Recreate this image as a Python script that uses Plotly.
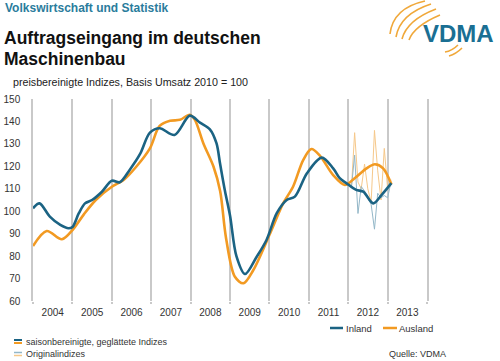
import plotly.graph_objects as go

# ---- data ----
inland_dates = ["2004-01-01", "2004-03-01", "2004-06-05", "2004-09-10", "2004-11-25", "2005-01-01",
                "2005-03-01", "2005-04-27", "2005-07-01", "2005-10-01", "2006-01-01", "2006-03-15",
                "2006-06-15", "2006-09-20", "2006-12-20", "2007-03-20", "2007-08-05", "2007-12-25",
                "2008-03-28", "2008-06-28", "2008-08-28", "2008-10-01", "2008-11-15", "2009-01-01",
                "2009-03-01", "2009-05-20", "2009-09-05", "2009-12-05", "2010-03-10", "2010-06-10",
                "2010-08-25", "2010-12-15", "2011-05-01", "2011-08-15", "2011-10-15", "2011-12-15",
                "2012-03-15", "2012-05-20", "2012-08-20", "2012-11-05", "2013-02-05"]
inland_values = [101.3, 103.5, 97.6, 93.9, 92.4, 93.0,
                 99.1, 103.5, 105.0, 108.7, 113.6, 112.9,
                 118.4, 125.5, 135.0, 137.0, 134.0, 142.6,
                 139.5, 136.5, 130.3, 121.0, 109.0, 98.0,
                 80.0, 72.0, 79.7, 87.2, 99.1, 105.0,
                 106.5, 116.9, 123.9, 119.1, 114.7, 112.5,
                 109.5, 108.7, 103.5, 107.2, 112.5]

ausland_dates = ["2004-01-01", "2004-05-07", "2004-09-25", "2005-01-01", "2005-04-15", "2005-08-05",
                 "2006-01-01", "2006-04-20", "2006-08-15", "2006-12-20", "2007-03-20", "2007-06-25",
                 "2007-09-25", "2007-12-25", "2008-02-10", "2008-04-28", "2008-08-01", "2008-10-01",
                 "2008-11-25", "2009-02-15", "2009-05-05", "2009-08-05", "2010-01-08", "2010-05-08",
                 "2010-08-08", "2010-11-10", "2011-01-25", "2011-04-10", "2011-08-15", "2011-12-01",
                 "2012-03-01", "2012-06-20", "2012-09-05", "2012-11-20", "2013-02-05"]
ausland_values = [84.5, 91.2, 87.5, 91.6, 98.5, 105.0,
                  110.9, 113.9, 119.8, 128.0, 138.0, 140.3,
                  140.7, 143.0, 140.7, 130.3, 119.8, 109.0,
                  88.0, 70.8, 67.9, 73.8, 90.2, 103.5,
                  110.9, 122.8, 127.7, 125.0, 116.1, 111.7,
                  114.7, 119.1, 120.9, 119.1, 112.0]

orig_dates = ["2012-01-01", "2012-02-01", "2012-03-01", "2012-04-01", "2012-05-01", "2012-06-01",
              "2012-07-01", "2012-08-01", "2012-09-01", "2012-10-01", "2012-11-01", "2012-12-01",
              "2013-01-01", "2013-02-01"]
inland_orig = [112, 111, 125, 99, 111, 109, 106, 103, 92, 108, 106, 107, 106, 113]
ausland_orig = [113, 111, 135, 113, 110, 121, 110, 104, 136, 118, 105, 128, 110, 114]

y_ticks = [60, 70, 80, 90, 100, 110, 120, 130, 140, 150]

TEAL = "#1b6383"
ORANGE = "#f29a22"
TEAL_LIGHT = "#93b7c8"
ORANGE_LIGHT = "#f6c88a"
GRID = "#c9c9c9"
FONT = "Liberation Sans, Arial, sans-serif"

W, H = 500, 361
ML, MR, MT, MB = 33, 73, 99, 60
PW, PH = W - ML - MR, H - MT - MB


def px(x):
    return (x - ML) / PW


def py(y):
    return (H - MB - y) / PH


fig = go.Figure()
fig.add_trace(go.Scatter(x=orig_dates, y=ausland_orig, mode="lines",
                         line=dict(color=ORANGE_LIGHT, width=1), showlegend=False, hoverinfo="skip"))
fig.add_trace(go.Scatter(x=orig_dates, y=inland_orig, mode="lines",
                         line=dict(color=TEAL_LIGHT, width=1), showlegend=False, hoverinfo="skip"))
fig.add_trace(go.Scatter(x=ausland_dates, y=ausland_values, mode="lines", name="Ausland",
                         line=dict(color=ORANGE, width=2.6, shape="spline", smoothing=0.9),
                         showlegend=False))
fig.add_trace(go.Scatter(x=inland_dates, y=inland_values, mode="lines", name="Inland",
                         line=dict(color=TEAL, width=2.6, shape="spline", smoothing=0.9),
                         showlegend=False))

fig.update_layout(
    width=W, height=H,
    margin=dict(l=ML, r=MR, t=MT, b=MB, autoexpand=False),
    paper_bgcolor="white", plot_bgcolor="white",
    font=dict(family=FONT, size=10, color="#333333"),
    showlegend=False,
    xaxis=dict(type="date", range=["2004-01-01", "2014-01-01"], dtick="M12",
               tick0="2004-01-01", ticklabelmode="period", tickformat="%Y",
               showgrid=True, gridcolor=GRID, gridwidth=1.5, zeroline=False,
               showline=False, ticks="outside", ticklen=2, tickcolor=GRID, tickwidth=1.5,
               automargin=False,
               tickfont=dict(size=10, color="#333333")),
    yaxis=dict(range=[60, 150], tickvals=y_ticks, showgrid=False, zeroline=False,
               showline=True, linecolor=GRID, linewidth=1.5, mirror=True,
               ticks="", ticklabelstandoff=9, automargin=False,
               tickfont=dict(size=10, color="#333333")),
)

ann = []
ann.append(dict(text="<b>Volkswirtschaft und Statistik</b>", x=px(3), y=py(8),
                font=dict(size=12, color="#2a7c9c")))
ann.append(dict(text="<b>Auftragseingang im deutschen</b>", x=px(2), y=py(38),
                font=dict(size=17.5, color="#111111")))
ann.append(dict(text="<b>Maschinenbau</b>", x=px(2), y=py(59),
                font=dict(size=17.5, color="#111111")))
ann.append(dict(text="preisbereinigte Indizes, Basis Umsatz 2010 = 100", x=px(11), y=py(82),
                font=dict(size=10.7, color="#222222")))
ann.append(dict(text="<b>VDMA</b>", x=px(421), y=py(34),
                font=dict(size=24, color="#1a6f93")))
ann.append(dict(text="Inland", x=px(344), y=py(328), font=dict(size=9.5, color="#333333")))
ann.append(dict(text="Ausland", x=px(397), y=py(328), font=dict(size=9.5, color="#333333")))
ann.append(dict(text="saisonbereinigte, geglättete Indizes", x=px(24), y=py(342),
                font=dict(size=9, color="#333333")))
ann.append(dict(text="Originalindizes", x=px(24), y=py(354), font=dict(size=9, color="#333333")))
ann.append(dict(text="Quelle: VDMA", x=px(387), y=py(354), font=dict(size=9, color="#333333")))
for a in ann:
    a.update(xref="paper", yref="paper", xanchor="left", yanchor="middle", showarrow=False)
fig.update_layout(annotations=ann)

shapes = []


def seg(x0, y0, x1, y1, color, width):
    shapes.append(dict(type="line", xref="paper", yref="paper",
                       x0=px(x0), y0=py(y0), x1=px(x1), y1=py(y1),
                       line=dict(color=color, width=width)))


# legend keys
seg(330, 328, 343, 328, TEAL, 2.5)
seg(383, 328, 397, 328, ORANGE, 2.5)
seg(14, 340, 22, 340, TEAL, 2)
seg(14, 343, 22, 343, ORANGE, 2)
seg(14, 352.5, 22, 352.5, TEAL_LIGHT, 1.5)
seg(14, 355.5, 22, 355.5, ORANGE_LIGHT, 1.5)


# logo arcs
def arc(p0, c, p1, width=1.6):
    path = "M {} {} Q {} {} {} {}".format(px(p0[0]), py(p0[1]), px(c[0]), py(c[1]),
                                           px(p1[0]), py(p1[1]))
    shapes.append(dict(type="path", xref="paper", yref="paper", path=path,
                       line=dict(color="#f0a83a", width=width)))


arc((390, 34), (393, 8), (425, 1))
arc((396, 37), (400, 14), (431, 4))
arc((402, 39), (407, 20), (436, 9))
arc((409, 40), (414, 26), (440, 15))
arc((445, 52), (452, 51), (458, 45))
arc((449, 56), (456, 54), (462, 48))

fig.update_layout(shapes=shapes)

fig.write_html("out.html", config={"displayModeBar": False},
               post_script="document.body.style.margin='0';document.body.style.padding='0';")
